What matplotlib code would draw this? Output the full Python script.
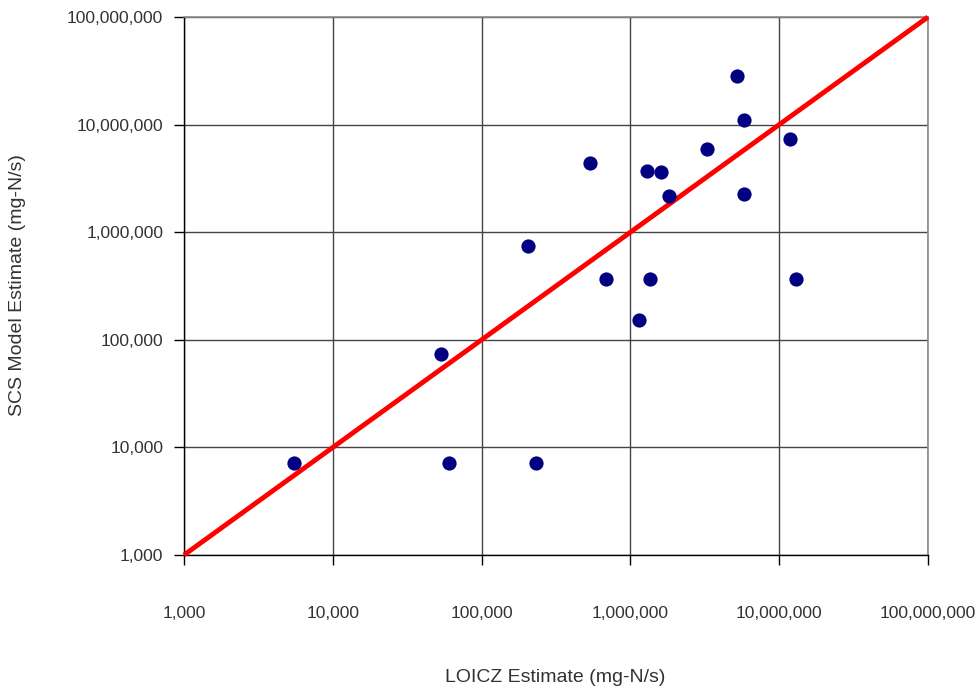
import numpy as np
import matplotlib.pyplot as plt
from matplotlib.ticker import FuncFormatter, FixedLocator, NullLocator

# LOICZ estimate vs SCS model estimate (mg-N/s)
loicz = [5480, 53300, 60400, 232000, 205000, 535000, 686000, 1140000,
         1290000, 1360000, 1610000, 1820000, 3270000, 5200000, 5800000,
         5800000, 11800000, 13000000]
scs = [7160, 73800, 7160, 7160, 745000, 4400000, 367000, 153000,
       3700000, 367000, 3600000, 2170000, 5930000, 28300000, 11000000,
       2260000, 7350000, 367000]
one_to_one = [1000, 100000000]
ticks = [1e3, 1e4, 1e5, 1e6, 1e7, 1e8]

plt.rcParams['font.family'] = ['Liberation Sans', 'DejaVu Sans']
text_col = '#333333'

fig = plt.figure(figsize=(9.79, 6.93), dpi=100)
ax = fig.add_axes([184 / 979, 1 - 555 / 693, 744 / 979, 538 / 693])

ax.set_xscale('log')
ax.set_yscale('log')
ax.set_xlim(1e3, 1e8)
ax.set_ylim(1e3, 1e8)

ax.plot(one_to_one, one_to_one, color='#ff0000', lw=3.5, zorder=3,
        solid_capstyle='butt', clip_on=False)
ax.scatter(loicz, scs, s=105, color='#000080', zorder=4, linewidths=0)

fmt = FuncFormatter(lambda v, p: f'{int(round(v)):,}')
for axis in (ax.xaxis, ax.yaxis):
    axis.set_major_locator(FixedLocator(ticks))
    axis.set_minor_locator(NullLocator())
    axis.set_major_formatter(fmt)

ax.grid(True, color='#444444', lw=1)
ax.set_axisbelow(True)
for s in ('top', 'right'):
    ax.spines[s].set_color('#888888')
    ax.spines[s].set_linewidth(1.2)
    ax.spines[s].set_zorder(2.5)
for s in ('left', 'bottom'):
    ax.spines[s].set_color('black')
    ax.spines[s].set_linewidth(1)

ax.tick_params(axis='x', length=7, width=1, pad=30, labelsize=12.5,
               labelcolor=text_col)
ax.tick_params(axis='y', length=7, width=1, pad=8, labelsize=12.5,
               labelcolor=text_col)

fig.text(555 / 979, 1 - 677 / 693, 'LOICZ Estimate (mg-N/s)', ha='center',
         va='center', fontsize=14, color=text_col)
fig.text(18 / 979, 1 - 285 / 693, 'SCS Model Estimate (mg-N/s)', ha='center',
         va='center', rotation=90, fontsize=14, color=text_col)

fig.savefig('out.png', dpi=100)
